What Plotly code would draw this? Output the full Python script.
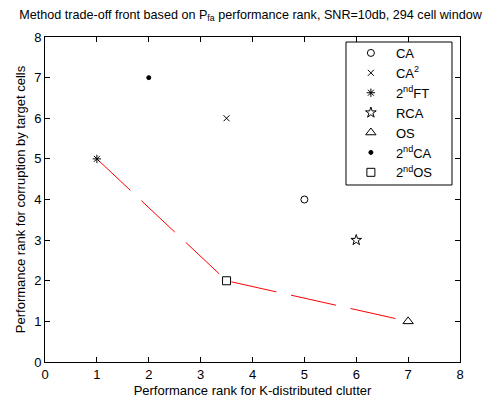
import plotly.graph_objects as go

# Data
methods = ["CA", "CA<sup>2</sup>", "2<sup>nd</sup>FT", "RCA", "OS", "2<sup>nd</sup>CA", "2<sup>nd</sup>OS"]
rank_k = [5, 3.5, 1, 6, 7, 2, 3.5]
rank_target = [4, 6, 5, 3, 1, 7, 2]
symbols = ["circle-open", "x-thin-open", "asterisk-open", "star-open", "triangle-up-open", "circle", "square-open"]
sizes = [7, 6, 7, 8, 9, 4, 8]

front_x = [1, 3.5, 7]
front_y = [5, 2, 1]

fig = go.Figure()
fig.add_trace(go.Scatter(x=front_x, y=front_y, mode="lines",
                         line=dict(color="red", width=1, dash="46px,15px"),
                         showlegend=False, hoverinfo="skip"))
for name, xv, yv, sym, sz in zip(methods, rank_k, rank_target, symbols, sizes):
    fig.add_trace(go.Scatter(x=[xv], y=[yv], mode="markers", name=name,
                             marker=dict(symbol=sym, size=sz, color="black",
                                         line=dict(color="black", width=1))))

axis_common = dict(range=[0, 8], dtick=1, tick0=0, showgrid=False, zeroline=False,
                   showline=True, linecolor="black", linewidth=1, mirror="ticks",
                   ticks="inside", ticklen=5, tickcolor="black", automargin=False,
                   tickfont=dict(family="Liberation Sans, Arial", size=13, color="black"))

fig.update_layout(
    width=501, height=401,
    margin=dict(l=45, r=41, t=37, b=39),
    paper_bgcolor="white", plot_bgcolor="white",
    font=dict(family="Liberation Sans, Arial", color="black"),
    title=dict(text="Method trade-off front based on P<sub>fa</sub> performance rank, SNR=10db, 294 cell window",
               x=0.5, xanchor="center", y=0.975, yanchor="top", automargin=False,
               font=dict(size=12.6, color="black")),
    xaxis=dict(title=dict(text="Performance rank for K-distributed clutter", font=dict(size=13), standoff=5),
               **axis_common),
    yaxis=dict(title=dict(text="Performance rank for corruption by target cells", font=dict(size=13), standoff=5),
               **axis_common),
    legend=dict(x=0.725, y=0.997, xanchor="left", yanchor="top",
                borderwidth=0, bgcolor="rgba(0,0,0,0)",
                font=dict(size=13, color="black"), tracegroupgap=0,
                itemwidth=40),
    shapes=[dict(type="rect", xref="paper", yref="paper",
                 x0=0.7253, x1=0.9807, y0=0.5446, y1=0.9846,
                 line=dict(color="black", width=1), fillcolor="white", layer="below")],
)

fig.write_html("out.html")
